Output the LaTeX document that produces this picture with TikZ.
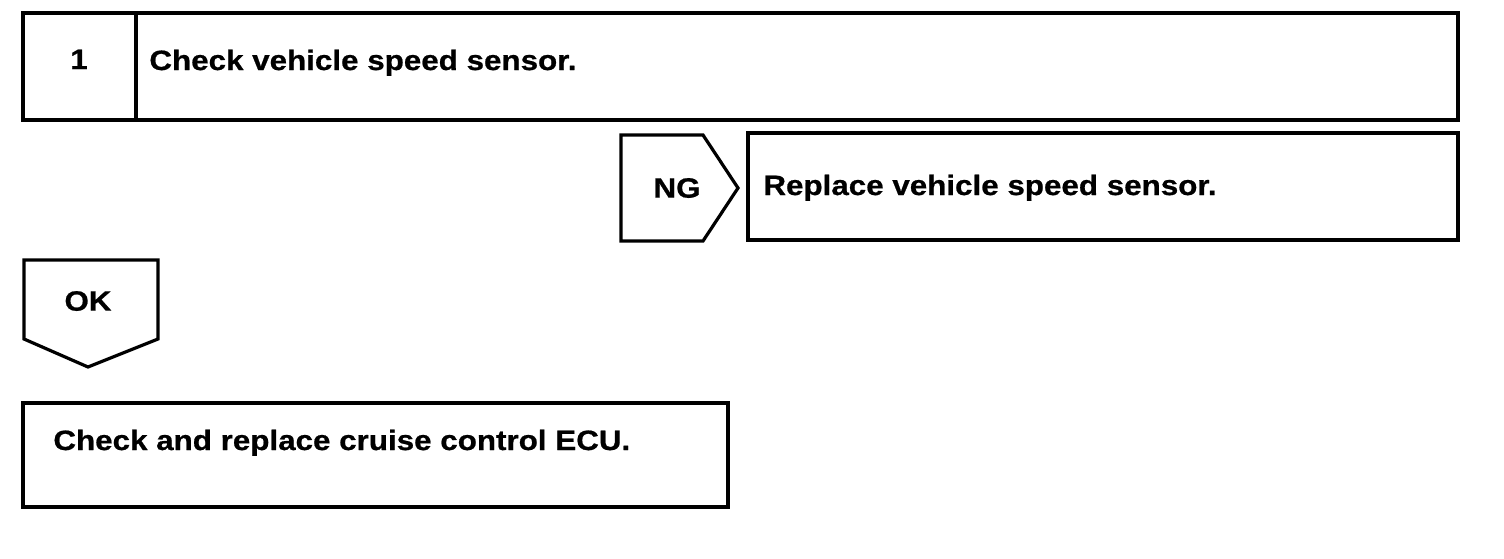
\documentclass[tikz,border=0pt]{standalone}
\usepackage{fontspec}
\setmainfont{Liberation Sans}
\newfontfamily\stepfont[FakeStretch=1.12,FakeBold=0.7]{Liberation Sans Bold}
\usetikzlibrary{positioning}
\tikzset{
    stepbox/.style={
        rectangle,
        draw=black,
        line width=1.6pt,
        minimum height=53.5pt,
        inner sep=0pt,
        outer sep=0pt,
        anchor=north west,
    },
    tag/.style={
        draw=black,
        line width=1.6pt,
        line join=miter,
    },
    boxtext/.style={
        font=\stepfont\fontsize{14}{17}\selectfont,
        inner sep=0pt,
        anchor=base west,
    },
    tagtext/.style={
        font=\stepfont\fontsize{14}{17}\selectfont,
        inner sep=0pt,
    },
}
\begin{document}
\begin{tikzpicture}[x=0.5pt,y=-0.5pt]
    \useasboundingbox (0,0) rectangle (1504,558);
    % step 1
    \node[stepbox,minimum width=56.5pt](num1) at (23,13) {};
    \node[stepbox,minimum width=661pt](step1) at (136,13) {};
    \node[tagtext,anchor=base](n1) at (79,69) {1};
    \node[boxtext](t1) at (149,70) {Check vehicle speed sensor.};
    % NG branch
    \draw[tag] (621,135) -- (703,135) -- (738,188) -- (703,241) -- (621,241) -- cycle;
    \node[tagtext](ng) at (677,188) {NG};
    \node[stepbox,minimum width=355pt](repl) at (748,133) {};
    \node[boxtext](t2) at (763,195) {Replace vehicle speed sensor.};
    % OK branch
    \draw[tag] (24,260) -- (158,260) -- (158,339) -- (88,367) -- (24,339) -- cycle;
    \node[tagtext](ok) at (88,301) {OK};
    \node[stepbox,minimum width=352.5pt,minimum height=52pt](ecu) at (23,403) {};
    \node[boxtext](t3) at (53,450) {Check and replace cruise control ECU.};
\end{tikzpicture}
\end{document}
